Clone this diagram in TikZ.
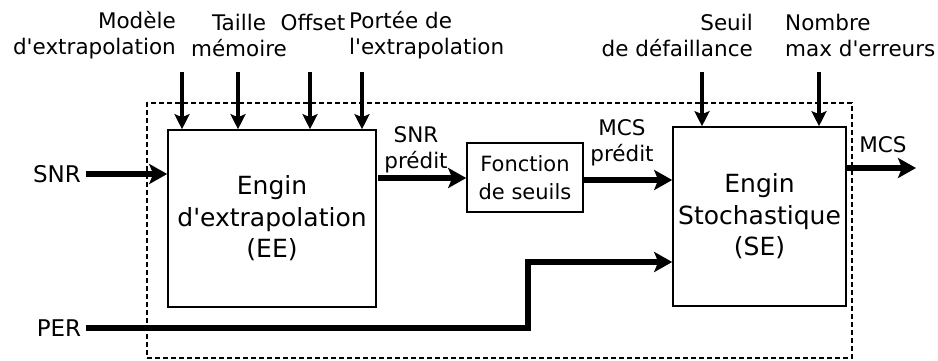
\documentclass[tikz,border=0pt]{standalone}
\usepackage{fontspec}
\setmainfont{DejaVu Sans}
\usetikzlibrary{arrows.meta}
\newcommand{\ap}{\textquotesingle}
\begin{document}
\begin{tikzpicture}[x=1pt,y=-1pt,
  lbl/.style={font=\fontsize{21.5}{26}\selectfont,inner sep=0pt},
  sig/.style={font=\fontsize{21.5}{26}\selectfont,inner sep=0pt,align=center},
  block/.style={draw,line width=1.6pt,font=\fontsize{25}{31.5}\selectfont,align=center,inner sep=0pt},
  small/.style={draw,line width=1.6pt,font=\fontsize{21}{28}\selectfont,align=center,inner sep=0pt},
  frame/.style={draw,line width=1.3pt,dash pattern=on 5pt off 3pt},
  param/.style={line width=3.4pt,-{Stealth[length=15pt,width=15pt,inset=3pt]}},
  flow/.style={line width=5.4pt,line join=miter,-{Stealth[length=18pt,width=20pt,inset=4pt]}}]
\useasboundingbox (0,0) rectangle (938,360);

% enclosing dashed frame
\node[frame,minimum width=705pt,minimum height=255pt] (frame) at (499.5,230.5) {};

% processing blocks
\node[block,minimum width=208pt,minimum height=177pt] (EE) at (272,218.5)
  {Engin\\d\ap extrapolation\\(EE)};
\node[small,minimum width=116pt,minimum height=69pt] (FS) at (525,177.5)
  {Fonction\\de seuils};
\node[block,minimum width=173pt,minimum height=179pt] (SE) at (759.5,216.5)
  {Engin\\Stochastique\\(SE)};

% parameter labels
\node[lbl,align=right,anchor=east] (pmod) at (176,35) {Modèle\\d\ap extrapolation};
\node[lbl,align=center] (ptaille) at (239,35) {Taille\\mémoire};
\node[lbl] (poff) at (313,22) {Offset};
\node[lbl,align=left,anchor=west] (pport) at (349,35) {Portée de\\l\ap extrapolation};
\node[lbl,align=right,anchor=east] (pseuil) at (753,35) {Seuil\\de défaillance};
\node[lbl,align=left,anchor=west] (pnb) at (785,35) {Nombre\\max d\ap erreurs};

% parameter arrows
\coordinate (a1) at (182,72);
\coordinate (a2) at (238,72);
\coordinate (a3) at (310,72);
\coordinate (a4) at (362,72);
\coordinate (a5) at (702,72);
\coordinate (a6) at (819,72);
\draw[param] (a1) -- (a1 |- EE.north);
\draw[param] (a2) -- (a2 |- EE.north);
\draw[param] (a3) -- (a3 |- EE.north);
\draw[param] (a4) -- (a4 |- EE.north);
\draw[param] (a5) -- (a5 |- SE.north);
\draw[param] (a6) -- (a6 |- SE.north);

% inputs
\node[lbl,font=\fontsize{23}{26}\selectfont,inner xsep=5pt] (snr) at (57,174) {SNR};
\node[lbl,font=\fontsize{23}{26}\selectfont,inner xsep=5pt] (per) at (59,328) {PER};
\draw[flow] (snr.east) -- (snr.east -| EE.west);
\coordinate (bend1) at (528,328);
\coordinate (bend2) at (528,262);
\draw[flow] (per.east) -- (bend1) -- (bend2) -- (bend2 -| SE.west);

% internal signals
\coordinate (s1) at (378,178);
\draw[flow] (s1) -- (s1 -| FS.west);
\node[sig] (snrp) at (416,150) {SNR\\prédit};
\coordinate (s2) at (584,180);
\draw[flow] (s2) -- (s2 -| SE.west);
\node[sig] (mcsp) at (622,143) {MCS\\prédit};

% output
\coordinate (out) at (916,168);
\draw[flow] (SE.east |- out) -- (out);
\node[sig] (mcs) at (883,145) {MCS};
\end{tikzpicture}
\end{document}
